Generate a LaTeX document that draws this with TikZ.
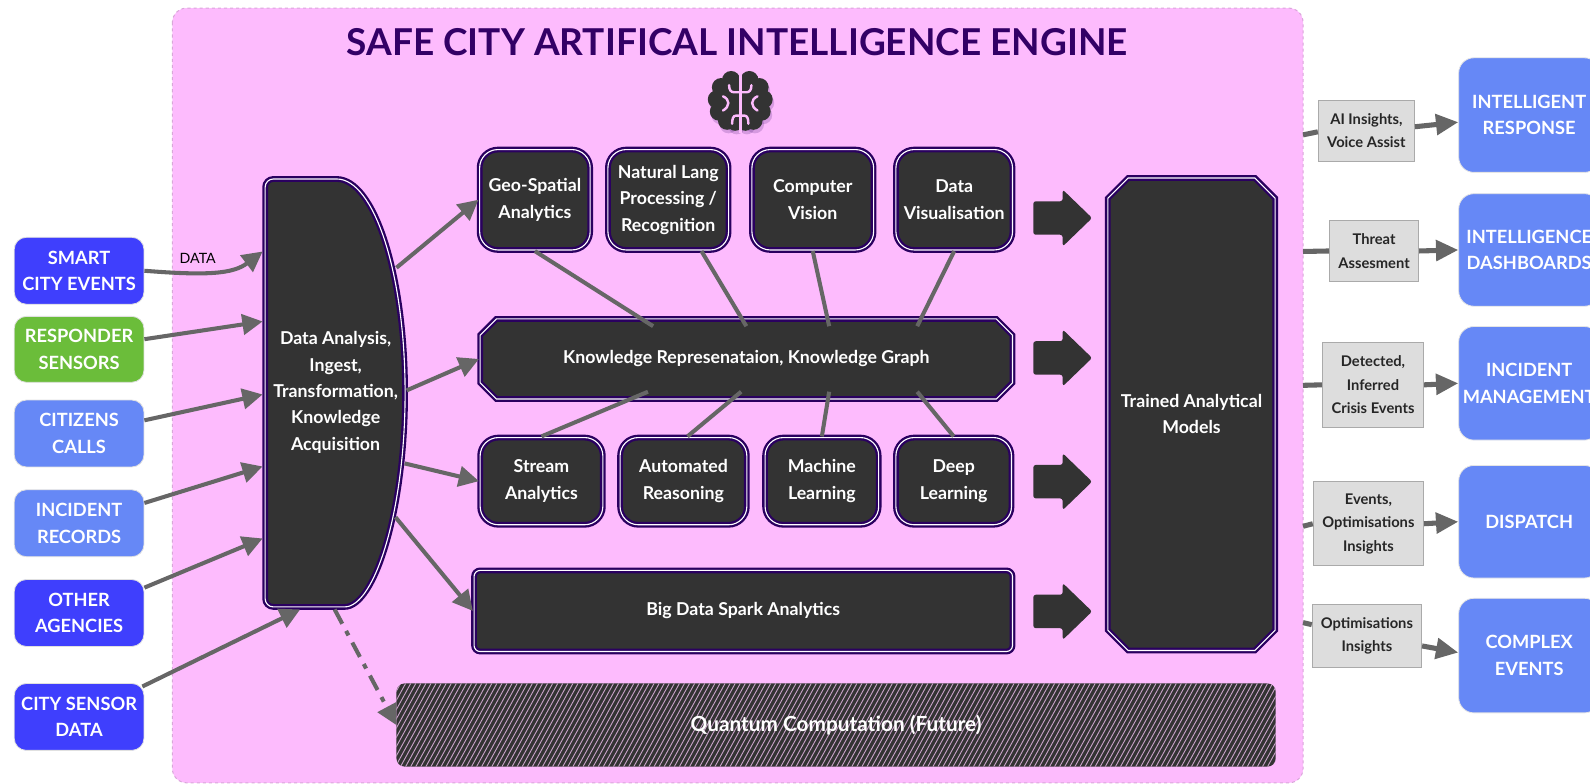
\documentclass[tikz,border=0pt]{standalone}
\usepackage{fontspec}
\setmainfont{Lato}
\usetikzlibrary{arrows.meta,shapes.misc,calc}
\definecolor{pinkbg}{HTML}{FDBBFD}
\definecolor{pinkbd}{HTML}{D9A6D9}
\definecolor{sblue}{HTML}{3F3FFD}
\definecolor{sgreen}{HTML}{6BBD3A}
\definecolor{lblue}{HTML}{6688F6}
\definecolor{dk}{HTML}{333333}
\definecolor{pbd}{HTML}{2A0060}
\definecolor{ttl}{HTML}{330066}
\definecolor{ag}{HTML}{666666}
\definecolor{gfill}{HTML}{DDDDDD}
\definecolor{gbd}{HTML}{AAAAAA}
\definecolor{hatchc}{HTML}{C8A2C8}
\begin{document}
\begin{tikzpicture}[x=1pt,y=-1pt,
  inbox/.style={rounded corners=12pt, draw=black!12, line width=0.8pt, text=white,
    font=\fontsize{18}{26}\selectfont\bfseries, align=center, inner sep=0pt, minimum width=128},
  obox/.style={rounded corners=15pt, draw=black!10, line width=0.8pt, fill=lblue, text=white,
    font=\fontsize{18}{26}\selectfont\bfseries, align=center, inner sep=0pt, minimum width=139},
  dbox/.style={fill=dk, draw=pbd, double=white, double distance=1.1pt, line width=2.3pt,
    text=white, font=\fontsize{17.5}{26}\selectfont\bfseries, align=center, inner sep=0pt},
  rbox/.style={dbox, rounded corners=18pt},
  cbox/.style={dbox, chamfered rectangle, chamfered rectangle xsep=8pt, chamfered rectangle ysep=8pt},
  gbox/.style={fill=gfill, draw=gbd, line width=0.8pt, text=black!85,
    font=\fontsize{14.5}{23}\selectfont\bfseries, align=center, inner sep=0pt},
  conn/.style={draw=ag, line width=4pt},
  arr/.style={conn, -{Triangle[length=20pt,width=20pt]}},
  rarr/.style={draw=ag, line width=5pt, -{Triangle[length=22pt,width=20pt]}},
  pinkline/.style={draw=pinkbg, line width=2.4pt, line cap=round},
]
\useasboundingbox (0,0) rectangle (1568,773);
\clip (0,0) rectangle (1568,773);

% engine background
\path[fill=pinkbg, draw=pinkbd, dashed, line width=1pt, rounded corners=14] (170,8) rectangle (1285,772);

% title
\node[text=ttl, font=\fontsize{36.5}{40}\selectfont\bfseries, inner sep=0pt] (title) at (727,42) {SAFE CITY ARTIFICAL INTELLIGENCE ENGINE};

% brain icon
\begin{scope}[shift={(730,100)}]
  \begin{scope}[shift={(1.5,3.5)}]
    \foreach \s in {-1,1}{
      \foreach \px/\py/\r in {9/-21/9, 19/-14/9, 23/-2/9, 21/10/9, 13/19/9, 5/21/8}{
        \fill[pbd, opacity=0.18] (\s*\px,\py) circle (\r);
      }
    }
  \end{scope}
  \fill[dk] (0,0) circle (21);
  \foreach \s in {-1,1}{
    \foreach \px/\py/\r in {9/-21/9, 19/-14/9, 23/-2/9, 21/10/9, 13/19/9, 5/21/8}{
      \fill[dk] (\s*\px,\py) circle (\r);
    }
    \draw[pinkline] (0,-9) -- (\s*6,-9) .. controls (\s*9,-9) and (\s*11,-11) .. (\s*11,-16);
    \draw[pinkline] (\s*17,-5) .. controls (\s*10,-2) and (\s*10,5) .. (\s*17,9);
    \draw[pinkline] (0,14) -- (\s*4,14) .. controls (\s*7,14) and (\s*8,17) .. (\s*8,22);
  }
  \draw[pinkbg, line width=3pt] (0,-31) -- (0,31);
\end{scope}

% input boxes
\node[inbox, fill=sblue, minimum height=66] (sce) at (78,267) {SMART\\CITY EVENTS};
\node[inbox, fill=sgreen, minimum height=65] (rsp) at (78,344.5) {RESPONDER\\SENSORS};
\node[inbox, fill=lblue, minimum height=66] (ccl) at (78,427.5) {CITIZENS\\CALLS};
\node[inbox, fill=lblue, minimum height=66] (irc) at (78,516) {INCIDENT\\RECORDS};
\node[inbox, fill=sblue, minimum height=66] (oag) at (78,604.5) {OTHER\\AGENCIES};
\node[inbox, fill=sblue, minimum height=66] (csd) at (78,707) {CITY SENSOR\\DATA};

% data analysis shape
\path[fill=dk, draw=pbd, double=white, double distance=1.1pt, line width=2.3pt, rounded corners=8]
  (332,176.5) -- (261.5,176.5) -- (261.5,598.5) -- (332,598.5)
  [sharp corners] .. controls (369,598.5) and (399.5,505) .. (399.5,387.5)
  .. controls (399.5,270) and (369,176.5) .. (332,176.5) -- cycle;
\node[text=white, font=\fontsize{17.5}{26}\selectfont\bfseries, align=center, inner sep=0pt] (dai) at (331,387)
  {Data Analysis,\\Ingest,\\Transformation,\\Knowledge\\Acquisition};
\coordinate (d1) at (259,248);
\coordinate (d2) at (259,317);
\coordinate (d3) at (259,389);
\coordinate (d4) at (259,460);
\coordinate (d5) at (259,531);
\coordinate (d6) at (296,601);
\coordinate (o1) at (391,264);
\coordinate (o2) at (401,385);
\coordinate (o3) at (399,457);
\coordinate (o4) at (390,510);
\coordinate (o5) at (330,601);

% analytics boxes
\node[rbox, minimum width=109, minimum height=99] (geo) at (527.5,197) {Geo-Spatial\\Analytics};
\node[rbox, minimum width=119, minimum height=99] (nlp) at (659,197) {Natural Lang\\Processing /\\Recognition};
\node[rbox, minimum width=120, minimum height=99] (cv) at (801.5,197) {Computer\\Vision};
\node[rbox, minimum width=115, minimum height=99] (dv) at (941,197) {Data\\Visualisation};
\node[cbox, minimum width=525, minimum height=79] (kr) at (736,354) {Knowledge Represenataion, Knowledge Graph};
\node[rbox, minimum width=121, minimum height=86] (sa) at (534,474.5) {Stream\\Analytics};
\node[rbox, minimum width=125, minimum height=86] (ar) at (674,474.5) {Automated\\Reasoning};
\node[rbox, minimum width=112, minimum height=86] (ml) at (810.5,474.5) {Machine\\Learning};
\node[rbox, minimum width=114, minimum height=86] (dl) at (940.5,474.5) {Deep\\Learning};
\node[dbox, rounded corners=6pt, minimum width=531, minimum height=80] (bd) at (733,602.5) {Big Data Spark Analytics};
\node[cbox, chamfered rectangle xsep=10pt, chamfered rectangle ysep=10pt, minimum width=165, minimum height=466] (tm) at (1175,408.5) {Trained Analytical\\Models};

% quantum (hatched)
\begin{scope}
  \clip[rounded corners=8] (391,674) rectangle (1258,756);
  \fill[dk] (391,674) rectangle (1258,756);
  \foreach \x in {330,335,...,1264}{
    \draw[hatchc, line width=0.9pt] (\x,756) -- (\x+45,674);
  }
\end{scope}
\node[text=white, font=\fontsize{20.5}{26}\selectfont\bfseries, inner sep=0pt, minimum width=867, minimum height=82] (qc) at (824.5,715) {Quantum Computation (Future)};

% links between analytics boxes and knowledge graph
\draw[conn] (geo.south) -- ($(kr.north west)!0.32!(kr.north east)$);
\draw[conn] ($(nlp.south west)!0.77!(nlp.south east)$) -- ($(kr.north west)!0.5!(kr.north east)$);
\draw[conn] (cv.south) -- ($(kr.north west)!0.66!(kr.north east)$);
\draw[conn] (dv.south) -- ($(kr.north west)!0.83!(kr.north east)$);
\draw[conn] ($(kr.south west)!0.31!(kr.south east)$) -- (sa.north);
\draw[conn] ($(kr.south west)!0.49!(kr.south east)$) -- ($(ar.north)+(4,0)$);
\draw[conn] ($(kr.south west)!0.66!(kr.south east)$) -- (ml.north);
\draw[conn] ($(kr.south west)!0.83!(kr.south east)$) -- (dl.north);

% input arrows
\draw[arr] (sce.east) .. controls (205,272) and (230,270) .. (d1);
\draw[arr] ($(rsp.east)+(0,-10)$) -- (d2);
\draw[arr] ($(ccl.east)+(0,-13)$) -- (d3);
\draw[arr] ($(irc.east)+(0,-20)$) -- (d4);
\draw[arr] ($(oag.east)+(0,-25)$) -- (d5);
\draw[arr] ($(csd.east)+(-2,-30)$) -- (d6);
\node[font=\fontsize{14}{16}\selectfont, inner sep=0pt] (dlab) at (195,255) {DATA};

% arrows out of data analysis
\draw[arr] (o1) -- (geo.west);
\draw[arr] (o2) -- (kr.west);
\draw[arr] (o3) -- (sa.west);
\draw[arr] (o4) -- (bd.west);
\draw[conn, dash pattern=on 16pt off 8pt on 5pt off 8pt, -{Triangle[length=20pt,width=20pt]}] (o5) -- (qc.west);

% block arrows
\foreach \c in {215,353,475,603}{
  \fill[dk, rounded corners=2.5] (1019,\c-16.5) -- (1048,\c-16.5) -- (1048,\c-28) -- (1077,\c)
    -- (1048,\c+28) -- (1048,\c+16.5) -- (1019,\c+16.5) -- cycle;
}

% outputs
\node[gbox, minimum width=95, minimum height=60] (ai) at (1347.5,129) {AI Insights,\\Voice Assist};
\node[gbox, minimum width=88, minimum height=61] (ta) at (1355,247.5) {Threat\\Assesment};
\node[gbox, minimum width=100, minimum height=83] (de) at (1354,379.5) {Detected,\\Inferred\\Crisis Events};
\node[gbox, minimum width=109, minimum height=83] (eo) at (1349.5,516.5) {Events,\\Optimisations\\Insights};
\node[gbox, minimum width=108, minimum height=62] (oi) at (1348,627) {Optimisations\\Insights};

\node[obox, minimum height=113] (irs) at (1508,113.5) {INTELLIGENT\\RESPONSE};
\node[obox, minimum height=111] (ids) at (1508,246.5) {INTELLIGENCE\\DASHBOARDS};
\node[obox, minimum height=112] (imn) at (1508,378) {INCIDENT\\MANAGEMENT};
\node[obox, minimum height=111] (dsp) at (1508,514.5) {DISPATCH};
\node[obox, minimum height=113] (cpx) at (1508,646.5) {COMPLEX\\EVENTS};

\coordinate (p1) at (1285,133);
\coordinate (p2) at (1285,248);
\coordinate (p3) at (1285,380);
\coordinate (p4) at (1285,519);
\coordinate (p5) at (1285,614);
\draw[draw=ag, line width=5pt] (p1) -- ($(ai.west)+(0,1)$);
\draw[draw=ag, line width=5pt] (p2) -- (ta.west);
\draw[draw=ag, line width=5pt] (p3) -- (de.west);
\draw[draw=ag, line width=5pt] (p4) -- (eo.west);
\draw[draw=ag, line width=5pt] (p5) -- ($(oi.west)+(0,-11)$);
\draw[rarr] ($(ai.east)+(0,-4)$) -- ($(irs.west)+(0,7)$);
\draw[rarr] (ta.east) -- (ids.west);
\draw[rarr] (de.east) -- (imn.west);
\draw[rarr] (eo.east) -- (dsp.west);
\draw[rarr] ($(oi.east)+(0,10)$) -- ($(cpx.west)+(0,-3)$);
\end{tikzpicture}
\end{document}
